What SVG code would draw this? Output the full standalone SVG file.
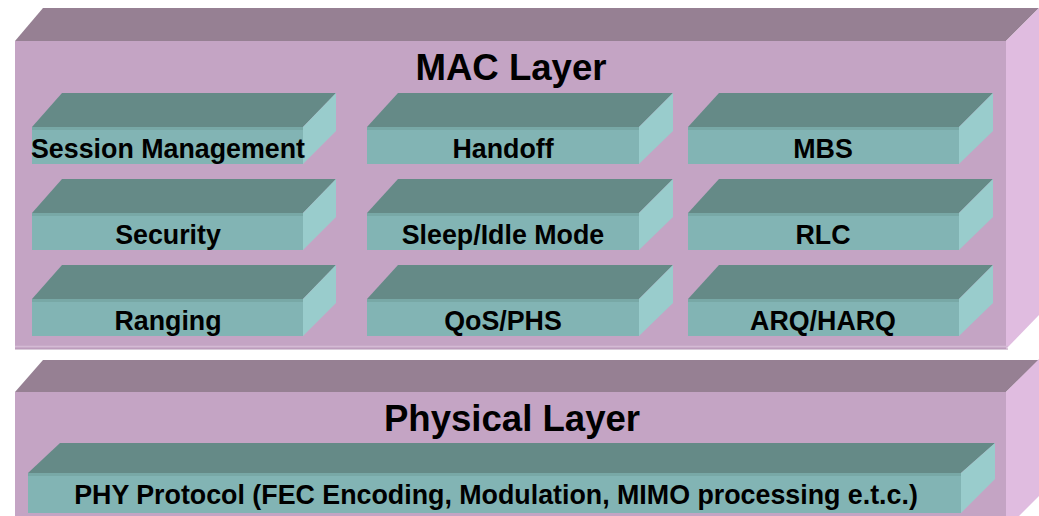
<svg xmlns="http://www.w3.org/2000/svg" width="1039" height="516" viewBox="0 0 1039 516">
<style>
.ltop{fill:#968093}
.lfront{fill:#C4A4C4}
.lside{fill:#E0BCE0}
.ttop{fill:#658A87}
.tfront{fill:#82B4B4}
.tside{fill:#99CCCC}
.tband{fill:#78A8A6}
.big{font-family:"Liberation Sans",Arial,sans-serif;font-weight:bold;font-size:36.6px;fill:#000;text-anchor:middle}
.lbl{font-family:"Liberation Sans",Arial,sans-serif;font-weight:bold;font-size:26.8px;fill:#000;text-anchor:middle}
</style>
<rect width="1039" height="516" fill="#ffffff"/>
<g id="mac-layer">
  <polygon class="ltop" points="15,41 43,8 1039,8 1006,41"/>
  <polygon class="lside" points="1006,41 1039,8 1039,315 1006,349"/>
  <rect class="lfront" x="15" y="41" width="991" height="308"/>
  <line x1="15" y1="346.5" x2="1008" y2="346.5" stroke="#D4BAD4" stroke-width="1.5"/>
  <line x1="15" y1="349" x2="1008" y2="349" stroke="#B496B4" stroke-width="1"/>
  <text class="big" x="511" y="80">MAC Layer</text>
</g>
<g id="physical-layer">
  <polygon class="ltop" points="15,392 43,360 1039,360 1006,392"/>
  <polygon class="lside" points="1006,392 1039,359 1039,496 1006,529"/>
  <rect class="lfront" x="15" y="392" width="991" height="130"/>
  <text class="big" x="512" y="431">Physical Layer</text>
</g>
<g id="session-management">
  <polygon class="ttop" points="32,127 62,93 336,93 303,127"/>
  <polygon class="tside" points="303,127 336,93 336,131 303,164"/>
  <rect class="tfront" x="32" y="127" width="271" height="37"/>
  <rect class="tband" x="32" y="127" width="271" height="3"/>
  <text class="lbl" x="168" y="158">Session Management</text>
</g>
<g id="handoff">
  <polygon class="ttop" points="367,127 398,93 673,93 639,127"/>
  <polygon class="tside" points="639,127 673,93 673,131 639,164"/>
  <rect class="tfront" x="367" y="127" width="272" height="37"/>
  <rect class="tband" x="367" y="127" width="272" height="3"/>
  <text class="lbl" x="503" y="158">Handoff</text>
</g>
<g id="mbs">
  <polygon class="ttop" points="688,127 719,93 993,93 959,127"/>
  <polygon class="tside" points="959,127 993,93 993,131 959,164"/>
  <rect class="tfront" x="688" y="127" width="271" height="37"/>
  <rect class="tband" x="688" y="127" width="271" height="3"/>
  <text class="lbl" x="823" y="158">MBS</text>
</g>
<g id="security">
  <polygon class="ttop" points="32,213 62,179 336,179 303,213"/>
  <polygon class="tside" points="303,213 336,179 336,217 303,250"/>
  <rect class="tfront" x="32" y="213" width="271" height="37"/>
  <rect class="tband" x="32" y="213" width="271" height="3"/>
  <text class="lbl" x="168" y="244">Security</text>
</g>
<g id="sleep-idle-mode">
  <polygon class="ttop" points="367,213 398,179 673,179 639,213"/>
  <polygon class="tside" points="639,213 673,179 673,217 639,250"/>
  <rect class="tfront" x="367" y="213" width="272" height="37"/>
  <rect class="tband" x="367" y="213" width="272" height="3"/>
  <text class="lbl" x="503" y="244">Sleep/Idle Mode</text>
</g>
<g id="rlc">
  <polygon class="ttop" points="688,213 719,179 993,179 959,213"/>
  <polygon class="tside" points="959,213 993,179 993,217 959,250"/>
  <rect class="tfront" x="688" y="213" width="271" height="37"/>
  <rect class="tband" x="688" y="213" width="271" height="3"/>
  <text class="lbl" x="823" y="244">RLC</text>
</g>
<g id="ranging">
  <polygon class="ttop" points="32,299 62,265 336,265 303,299"/>
  <polygon class="tside" points="303,299 336,265 336,303 303,336"/>
  <rect class="tfront" x="32" y="299" width="271" height="37"/>
  <rect class="tband" x="32" y="299" width="271" height="3"/>
  <text class="lbl" x="168" y="330">Ranging</text>
</g>
<g id="qos-phs">
  <polygon class="ttop" points="367,299 398,265 673,265 639,299"/>
  <polygon class="tside" points="639,299 673,265 673,303 639,336"/>
  <rect class="tfront" x="367" y="299" width="272" height="37"/>
  <rect class="tband" x="367" y="299" width="272" height="3"/>
  <text class="lbl" x="503" y="330">QoS/PHS</text>
</g>
<g id="arq-harq">
  <polygon class="ttop" points="688,299 719,265 993,265 959,299"/>
  <polygon class="tside" points="959,299 993,265 993,303 959,336"/>
  <rect class="tfront" x="688" y="299" width="271" height="37"/>
  <rect class="tband" x="688" y="299" width="271" height="3"/>
  <text class="lbl" x="823" y="330">ARQ/HARQ</text>
</g>
<g id="phy-protocol">
  <polygon class="ttop" points="28,473 60,443 995,443 961,473"/>
  <polygon class="tside" points="961,473 995,443 995,479 961,513"/>
  <rect class="tfront" x="28" y="473" width="933" height="40"/>
  <rect class="tband" x="28" y="473" width="933" height="3"/>
  <text class="lbl" x="496" y="504">PHY Protocol (FEC Encoding, Modulation, MIMO processing e.t.c.)</text>
</g>
<g id="connectors"/>
</svg>
